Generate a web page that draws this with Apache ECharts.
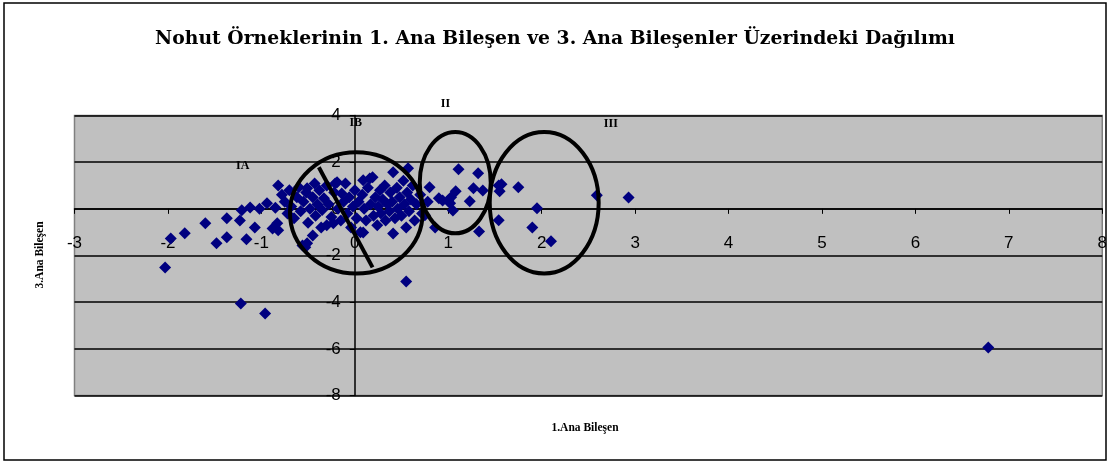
<!DOCTYPE html>
<html>
<head>
<meta charset="utf-8">
<script src="https://cdn.jsdelivr.net/npm/echarts@6/dist/echarts.min.js"></script>
<style>
html,body{margin:0;padding:0;background:#fff;}
#c{width:1110px;height:464px;}
</style>
</head>
<body>
<div id="c"></div>
<script>
const titleText = 'Nohut Örneklerinin 1. Ana Bileşen ve 3. Ana Bileşenler Üzerindeki Dağılımı';
const xAxisTitle = '1.Ana Bileşen';
const yAxisTitle = '3.Ana Bileşen';
const xTicks = [-3, 8, 1];
const yTicks = [-8, 4, 2];

const groupIA = [
  [-2.03,-2.51],[-1.97,-1.27],[-1.82,-1.05],[-1.6,-0.62],[-1.48,-1.48],[-1.37,-1.22],
  [-1.37,-0.4],[-1.23,-0.5],[-1.21,-0.06],[-1.16,-1.3],[-1.12,0.06],[-1.07,-0.8],
  [-1.02,0.0],[-0.94,0.24],[-1.22,-4.06],[-0.96,-4.49]
];
const groupIB = [
  [-0.88,-0.84],[-0.85,0.05],[-0.83,-0.62],[-0.82,-0.92],[-0.82,1.0],[-0.78,0.6],
  [-0.75,0.3],[-0.72,-0.2],[-0.7,0.8],[-0.68,0.1],[-0.65,-0.4],[-0.62,0.5],
  [-0.6,0.92],[-0.58,-0.1],[-0.56,-1.57],[-0.55,0.3],[-0.53,-1.65],[-0.52,0.7],
  [-0.51,0.88],[-0.51,-1.48],[-0.5,-0.6],[-0.48,0.0],[-0.45,-1.14],[-0.45,0.5],
  [-0.43,1.09],[-0.42,-0.3],[-0.4,0.2],[-0.38,0.8],[-0.36,-0.8],[-0.35,-0.05],
  [-0.33,0.45],[-0.3,-0.7],[-0.3,1.0],[-0.28,0.2],[-0.25,-0.35],[-0.23,-0.62],
  [-0.22,0.7],[-0.21,1.09],[-0.19,1.14],[-0.18,0.0],[-0.15,-0.5],[-0.14,0.66],
  [-0.12,0.3],[-0.1,1.09],[-0.08,-0.2],[-0.06,0.5],[-0.04,-0.8],[-0.02,0.1],
  [0.0,0.8],[0.02,-0.4],[0.04,0.3],[0.06,-1.0],[0.08,0.6],[0.09,1.22],
  [0.09,-1.01],[0.1,0.0],[0.12,-0.5],[0.14,0.9],[0.16,1.3],[0.17,0.2],
  [0.19,1.35],[0.2,-0.3],[0.22,0.5],[0.24,-0.7],[0.25,0.1],[0.27,0.8],
  [0.28,-0.2],[0.3,0.4],[0.32,1.0],[0.33,-0.5],[0.35,0.2],[0.37,-0.1],
  [0.38,0.7],[0.4,0.3],[0.41,1.57],[0.41,-1.06],[0.43,-0.4],[0.45,0.9],
  [0.46,0.0],[0.48,0.5],[0.5,-0.3],[0.52,1.2],[0.53,0.2],[0.55,-0.8],
  [0.56,0.7],[0.57,1.74],[0.58,-0.1],[0.6,0.4],[0.62,1.0],[0.64,-0.5],
  [0.66,0.2],[0.7,0.6],[0.72,-0.2],[0.75,-0.28],[0.78,0.3],[0.8,0.93],
  [0.86,-0.8],[0.9,0.45],[0.55,-3.11]
];
const groupII = [
  [0.94,0.36],[1.0,0.36],[1.03,0.5],[1.02,0.24],[1.05,-0.07],[1.08,0.75],
  [1.11,1.7],[1.23,0.32],[1.27,0.88],[1.32,1.52],[1.37,0.79],[1.33,-0.97]
];
const groupIII = [
  [1.54,1.0],[1.57,1.05],[1.55,0.75],[1.54,-0.49],[1.75,0.92],[1.9,-0.8],
  [1.95,0.02],[2.1,-1.39],[2.59,0.58],[2.93,0.49],[6.78,-5.94]
];

// annotation ellipses: [cx, cy, rx, ry] in data units
const ellipses = [
  [0.016,-0.17,0.71,2.6],
  [1.075,1.12,0.38,2.17],
  [2.027,0.26,0.583,3.03]
];
const divider = [[-0.385,1.78],[0.19,-2.51]];
const groupLabels = [['IA',-1.2,1.82],['IB',0.01,3.67],['II',0.97,4.48],['III',2.74,3.63]];

const allPoints = groupIA.concat(groupIB, groupII, groupIII);

const chart = echarts.init(document.getElementById('c'));
const serif = '"Liberation Serif","Times New Roman",serif';
const wideSerif = '"DejaVu Serif","Liberation Serif",serif';
const sans = '"Liberation Sans",Arial,sans-serif';

chart.setOption({
  animation: false,
  backgroundColor: '#fff',
  title: {
    text: titleText, left: 'center', top: 25,
    textStyle: {fontFamily: wideSerif, fontWeight: 'bold', fontSize: 18.8, color: '#000'}
  },
  grid: {left: 74.5, right: 7, top: 115.5, bottom: 68.5, show: true,
    backgroundColor: '#c0c0c0', borderColor: '#808080', borderWidth: 1.5},
  xAxis: {
    type: 'value', min: xTicks[0], max: xTicks[1], interval: xTicks[2],
    position: 'bottom',
    axisLine: {onZero: false, lineStyle: {color: '#000', width: 1.5}},
    axisTick: {show: true, inside: false, length: 5, lineStyle: {color: '#000'}},
    axisLabel: {margin: 26, fontFamily: sans, fontSize: 17, color: '#000'},
    splitLine: {show: false}
  },
  yAxis: {
    type: 'value', min: yTicks[0], max: yTicks[1], interval: yTicks[2],
    position: 'left',
    axisLine: {onZero: false, lineStyle: {color: '#000', width: 1.5}},
    axisTick: {show: true, inside: false, length: 5, lineStyle: {color: '#000'}},
    axisLabel: {margin: 14, fontFamily: sans, fontSize: 17, color: '#000'},
    splitLine: {show: true, lineStyle: {color: '#000', width: 1.5}}
  },
  series: [{
    type: 'scatter', symbol: 'diamond', symbolSize: 12,
    itemStyle: {color: '#000080', opacity: 1},
    data: allPoints
  }]
});

function px(p){ return chart.convertToPixel({gridIndex: 0}, p); }
// move axes so they cross at the origin (0,0)
const zero = px([0, 0]);
const corner = px([xTicks[0], yTicks[0]]);
chart.setOption({
  xAxis: {offset: zero[1] - corner[1]},
  yAxis: {offset: corner[0] - zero[0]}
});

const gfx = [];
gfx.push({type: 'rect', shape: {x: 4, y: 3, width: 1102, height: 457},
  style: {fill: null, stroke: '#000', lineWidth: 1.5}, z: 100, silent: true});
ellipses.forEach(e => {
  const c = px([e[0], e[1]]);
  const r = px([e[0] + e[2], e[1] + e[3]]);
  gfx.push({type: 'ellipse', shape: {cx: c[0], cy: c[1], rx: Math.abs(r[0]-c[0]), ry: Math.abs(c[1]-r[1])},
    style: {fill: null, stroke: '#000', lineWidth: 4}, z: 100, silent: true});
});
const d0 = px(divider[0]), d1 = px(divider[1]);
gfx.push({type: 'line', shape: {x1: d0[0], y1: d0[1], x2: d1[0], y2: d1[1]},
  style: {stroke: '#000', lineWidth: 4}, z: 100, silent: true});
groupLabels.forEach(l => {
  const p = px([l[1], l[2]]);
  gfx.push({type: 'text', x: p[0], y: p[1], z: 100, silent: true,
    style: {text: l[0], font: 'bold 12px ' + serif, fill: '#000', align: 'center', verticalAlign: 'middle'}});
});
gfx.push({type: 'text', x: 585, y: 428, z: 100, silent: true,
  style: {text: xAxisTitle, font: 'bold 11.5px ' + serif, fill: '#000', align: 'center', verticalAlign: 'middle'}});
gfx.push({type: 'text', x: 40, y: 255, rotation: Math.PI/2, z: 100, silent: true,
  style: {text: yAxisTitle, font: 'bold 11.5px ' + serif, fill: '#000', align: 'center', verticalAlign: 'middle'}});
chart.setOption({graphic: gfx});
</script>
</body>
</html>
